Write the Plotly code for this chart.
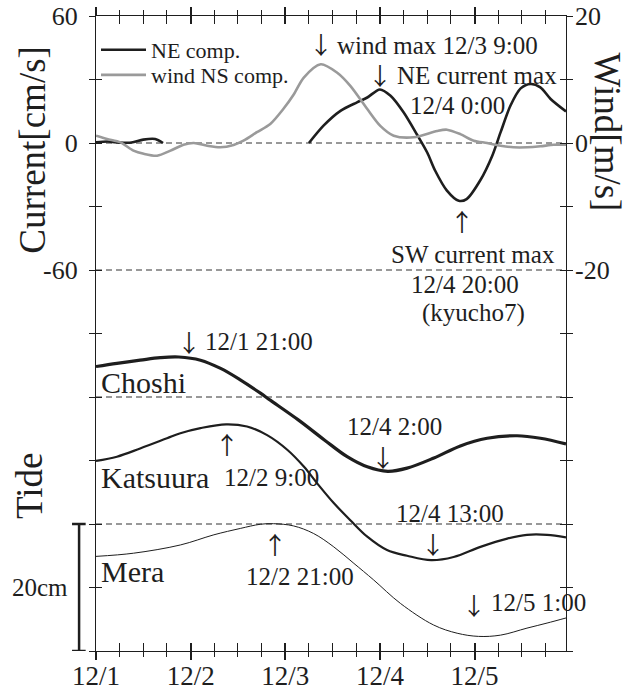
import plotly.graph_objects as go

# ---------------- data ----------------
# time axis: hours since 12/1 00:00
day_ticks = [0, 24, 48, 72, 96]
day_labels = ["12/1", "12/2", "12/3", "12/4", "12/5"]

# NE component of current [cm/s] (gap = missing record)
ne_hours = [0, 3, 6, 9, 12, 15, 17, None,
            54, 57.7, 62.0, 66.2, 68.8, 72, 74.7, 78.0, 81.4, 84.0, 86.0, 89.0,
            92, 94.0, 97.5, 100.5, 102.6, 105.1, 107.7, 110.2, 112.7, 115.3, 119.2]
ne_current = [0.3, 0.7, 0.2, 0.2, 1.6, 1.9, 0.0, None,
              0.0, 8.2, 15.2, 19.2, 21.5, 25.3, 22.3, 14.5, 4.0, -4.5, -13.0, -22.5,
              -27.3, -26.5, -17.5, -6.0, 5.0, 17.6, 25.8, 27.9, 26.3, 20.8, 14.9]

# NS component of wind [m/s]
wind_hours = [0, 2.8, 6.2, 9.5, 12.1, 15.5, 18.9, 22.2, 24.8, 28.2, 31.5, 34.9,
              37.4, 40.8, 44.2, 47.5, 50.1, 52.7, 57, 61.1, 64.5, 68.8, 72.1,
              75.5, 80.6, 86.5, 89.0, 92.4, 95.8, 99.2, 102.6, 105.9, 109.3,
              112.7, 116.1, 119.2]
wind_ns = [1.15, 0.63, 0.1, -1.2, -1.7, -2.0, -1.2, -0.27, 0.0, -0.43, -0.68, -0.31,
           0.36, 1.7, 3.0, 5.35, 7.6, 10.3, 12.4, 11.1, 9.0, 5.35, 2.7,
           1.15, 0.9, 1.9, 2.1, 1.4, 0.36, 0.0, -0.43, -0.68, -0.68,
           -0.52, -0.27, -0.27]

# tide anomalies [cm]
choshi_hours = [0, 5.3, 11.2, 16.3, 21, 26.5, 31.6, 36.6, 41.7, 44.2, 51.3, 58.0,
                63.7, 68.8, 74, 78.9, 85.7, 92.4, 99.2, 106.8, 112.7, 119.2]
choshi_tide = [4.8, 5.3, 5.8, 6.2, 6.3, 5.8, 4.5, 2.7, 0.6, -0.5, -3.6, -6.8,
               -9.4, -11.0, -11.7, -11.2, -9.6, -7.7, -6.5, -6.1, -6.5, -7.4]

katsuura_hours = [0, 5.3, 11.2, 18, 21.4, 26.5, 33, 38.3, 43.4, 48.5, 52.7, 56.1,
                  60.3, 64.5, 68.8, 73.8, 78.9, 85, 90.7, 97.5, 104.3, 109.3,
                  114.4, 119.2]
katsuura_tide = [-0.07, 0.6, 1.9, 3.5, 4.3, 5.1, 5.7, 5.35, 4.0, 1.7, -0.95, -3.6,
                 -6.7, -9.4, -12.0, -14.1, -15.0, -15.7, -15.2, -13.6, -12.3, -11.7,
                 -11.7, -12.1]

mera_hours = [0, 9.5, 21.4, 29.9, 36.6, 41.7, 45, 50.1, 55.2, 60.3, 65.4, 70.4,
              77.2, 85.6, 91.6, 97, 102.6, 109.3, 114.4, 119.2]
mera_tide = [-5.1, -4.6, -3.3, -1.7, -0.7, -0.04, 0.05, -0.3, -1.5, -3.6, -6.2, -8.8,
             -12.5, -15.9, -17.2, -17.7, -17.5, -16.4, -15.6, -14.8]

# ---------------- layout constants ----------------
FONT = "Liberation Serif, DejaVu Serif, serif"
ARROW_FONT = "Noto Sans CJK JP"
INK = "#1e1e1e"
WIND_TO_CURRENT = 3.0        # 20 m/s on the right axis spans 60 cm/s on the left
TIDE_SCALE = 3.0             # axis units per cm of tide (20 cm bar = 60 units)
TIDE_OFFSET = {"Choshi": -120, "Katsuura": -150, "Mera": -180}
REF_LEVELS = [0, -60, -120, -180]
X_END = 119.2
Y_MIN, Y_MAX = -240, 60
BAR_CM = 20

fig = go.Figure()

fig.add_trace(go.Scatter(
    x=ne_hours, y=ne_current, name="NE comp.", mode="lines", legend="legend",
    line=dict(color=INK, width=2.6, shape="spline", smoothing=0.8),
    connectgaps=False))
fig.add_trace(go.Scatter(
    x=wind_hours, y=[w * WIND_TO_CURRENT for w in wind_ns], name="wind NS comp.",
    mode="lines", legend="legend2",
    line=dict(color="#9a9a9a", width=2.6, shape="spline", smoothing=0.8)))

for name, hrs, vals, width in [("Choshi", choshi_hours, choshi_tide, 3.2),
                               ("Katsuura", katsuura_hours, katsuura_tide, 2.2),
                               ("Mera", mera_hours, mera_tide, 1.0)]:
    fig.add_trace(go.Scatter(
        x=hrs, y=[TIDE_OFFSET[name] + TIDE_SCALE * v for v in vals], name=name,
        mode="lines", showlegend=False,
        line=dict(color=INK, width=width, shape="spline", smoothing=1.0)))

# invisible traces that activate the wind axis and the outside-tick overlays
fig.add_trace(go.Scatter(x=[None], y=[None], yaxis="y2", showlegend=False,
                         hoverinfo="skip"))
fig.add_trace(go.Scatter(x=[None], y=[None], xaxis="x2", yaxis="y3",
                         showlegend=False, hoverinfo="skip"))

for lvl in REF_LEVELS:
    fig.add_hline(y=lvl, line=dict(color="#333", width=1, dash="6px,4px"), layer="below")

# 20 cm scale bar beside the tide panel
bar_top = TIDE_OFFSET["Mera"]
bar_bot = bar_top - BAR_CM * TIDE_SCALE
fig.add_shape(type="line", xref="paper", yref="y", x0=-0.036, x1=-0.036,
              y0=bar_top, y1=bar_bot, line=dict(color=INK, width=2.5))
for yy in (bar_top, bar_bot):
    fig.add_shape(type="line", xref="paper", yref="y", x0=-0.051, x1=-0.022,
                  y0=yy, y1=yy, line=dict(color=INK, width=2.5))

y_ticks = list(range(Y_MIN, Y_MAX + 1, 30))
y_text = [str(v) if v in (60, 0, -60) else "" for v in y_ticks]

axis_common = dict(showgrid=False, zeroline=False, showline=True, linecolor=INK,
                   linewidth=1.3, tickcolor=INK, mirror="allticks", automargin=False)

legend_common = dict(xanchor="left", yanchor="middle", bgcolor="rgba(0,0,0,0)",
                     font=dict(size=22, family=FONT, color=INK), itemwidth=45)

fig.update_layout(
    width=630, height=691,
    margin=dict(l=96, r=64, t=16, b=40, autoexpand=False),
    paper_bgcolor="white", plot_bgcolor="white",
    font=dict(family=FONT, color=INK),
    showlegend=True,
    legend=dict(x=0.0, y=0.9465, **legend_common),
    legend2=dict(x=0.0, y=0.907, **legend_common),
    # labelled time axis carries the inside half of each crossing tick ...
    xaxis=dict(range=[0, X_END], tickvals=day_ticks, ticktext=day_labels,
               ticks="inside", ticklen=8, tickwidth=2, ticklabelstandoff=0,
               minor=dict(dtick=6, tick0=0, ticks="inside", ticklen=5, tickwidth=1,
                          tickcolor=INK),
               tickfont=dict(size=27), **axis_common),
    # ... and this overlay the outside half
    xaxis2=dict(range=[0, X_END], overlaying="x", tickvals=day_ticks,
                showticklabels=False, ticks="outside", ticklen=8, tickwidth=2,
                minor=dict(dtick=6, tick0=0, ticks="outside", ticklen=5, tickwidth=1,
                           tickcolor=INK),
                **axis_common),
    yaxis=dict(range=[Y_MIN, Y_MAX], tickvals=y_ticks, ticktext=y_text,
               ticks="outside", ticklen=6, tickwidth=1.2, ticklabelstandoff=6,
               tickfont=dict(size=26), **axis_common),
    yaxis3=dict(range=[Y_MIN, Y_MAX], overlaying="y", tickvals=y_ticks,
                showticklabels=False, ticks="inside", ticklen=6, tickwidth=1.2,
                **axis_common),
    yaxis2=dict(range=[Y_MIN / WIND_TO_CURRENT, Y_MAX / WIND_TO_CURRENT],
                overlaying="y", side="right", tickvals=[20, 0, -20],
                ticktext=["20", "0", "-20"], ticks="", showline=False,
                showgrid=False, zeroline=False, ticklabelstandoff=8,
                tickfont=dict(size=26), automargin=False),
)

ann_font = dict(family=FONT, size=25, color=INK)
station_font = dict(family=FONT, size=30, color=INK)
arrow_font = dict(family=ARROW_FONT, size=24, color=INK)


def note(text, x, y, anchor="center", font=ann_font):
    fig.add_annotation(text=text, x=x, y=y, xref="x", yref="y", xanchor=anchor,
                       yanchor="middle", showarrow=False, font=font)


def pointer(glyph, x, y):
    note(glyph, x, y, "center", arrow_font)


# current / wind events
pointer("↓", 57.0, 46.8)
note("wind max 12/3 9:00", 60.7, 46.3, "left")
pointer("↓", 72.0, 32.6)
note("NE current max", 75.9, 32.1, "left")
note("12/4 0:00", 91.7, 17.7)
pointer("↑", 92.9, -36.4)
note("SW current max", 95.7, -52.8)
note("12/4 20:00", 93.7, -67.0)
note("(kyucho7)", 95.7, -80.2)

# tide events
pointer("↓", 23.7, -93.8)
note("12/1 21:00", 27.2, -93.6, "left")
note("Choshi", 0.8, -113.3, "left", station_font)
pointer("↑", 33.2, -142.2)
note("Katsuura", 0.8, -158.2, "left", station_font)
note("12/2 9:00", 32.0, -158.2, "left")
note("12/4 2:00", 75.7, -133.9)
pointer("↓", 72.8, -148.3)
note("12/4 13:00", 89.9, -174.9)
pointer("↓", 85.5, -189.4)
pointer("↑", 45.5, -189.0)
note("Mera", 0.8, -202.5, "left", station_font)
note("12/2 21:00", 51.8, -204.9)
pointer("↓", 95.8, -217.8)
note("12/5 1:00", 99.6, -217.3, "left")

# scale-bar label and axis titles
fig.add_annotation(text="20cm", x=-0.055, y=bar_top - BAR_CM * TIDE_SCALE / 2,
                   xref="paper", yref="y", xanchor="right", yanchor="middle",
                   showarrow=False, font=ann_font)
title_font = dict(family=FONT, size=37, color=INK)
fig.add_annotation(text="Current[cm/s]", x=-0.1355, y=-3, xref="paper", yref="y",
                   textangle=-90, showarrow=False, xanchor="center", yanchor="middle",
                   font=title_font)
fig.add_annotation(text="Tide", x=-0.14, y=-162, xref="paper", yref="y",
                   textangle=-90, showarrow=False, xanchor="center", yanchor="middle",
                   font=title_font)
fig.add_annotation(text="Wind[m/s]", x=1.1368, y=5, xref="paper", yref="y",
                   textangle=90, showarrow=False, xanchor="right", yanchor="middle",
                   font=title_font)

fig.write_html("out.html")
